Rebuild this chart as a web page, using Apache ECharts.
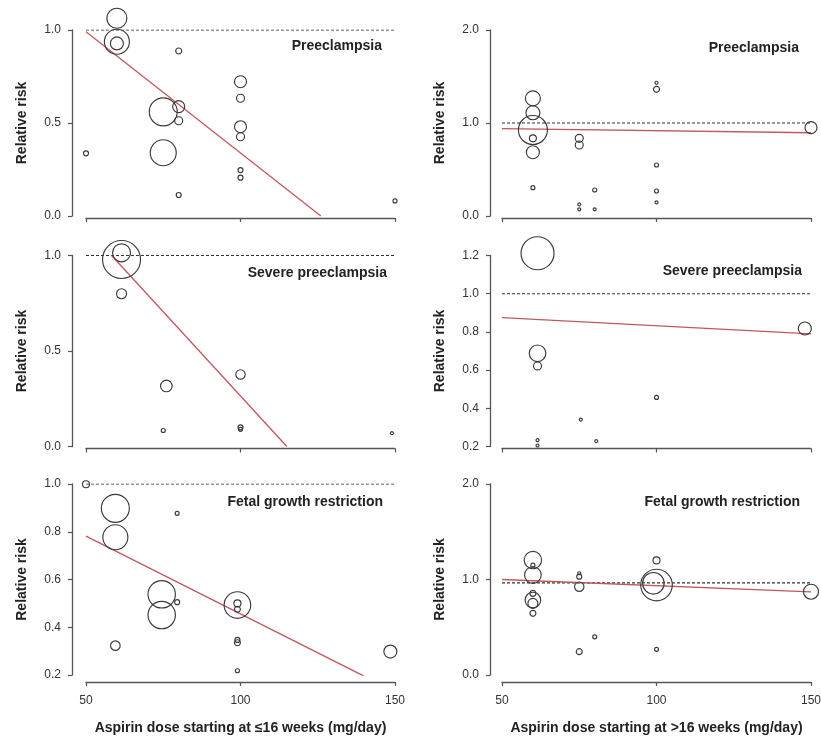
<!DOCTYPE html>
<html>
<head>
<meta charset="utf-8">
<script src="https://cdn.jsdelivr.net/npm/echarts@6/dist/echarts.min.js"></script>
<style>
  html, body { margin: 0; padding: 0; background: #fff; }
  #chart { width: 821px; height: 740px; }
</style>
</head>
<body>
<div id="chart"></div>
<script>
// ---------- DATA ----------
const outcomes = ['Preeclampsia', 'Severe preeclampsia', 'Fetal growth restriction'];
const xTitles = ['Aspirin dose starting at \u226416 weeks (mg/day)', 'Aspirin dose starting at >16 weeks (mg/day)'];
const yTitle = 'Relative risk';
const doseTicks = [50, 100, 150];

// Panel 1: preeclampsia, <=16 weeks
const p1Dose   = [50, 60, 60, 60, 80, 75, 75, 80, 80, 80, 100, 100, 100, 100, 100, 100, 150];
const p1RR     = [0.337, 1.063, 0.937, 0.928, 0.887, 0.56, 0.34, 0.588, 0.512, 0.113, 0.722, 0.633, 0.48, 0.426, 0.247, 0.206, 0.081];
const p1Weight = [2.5, 10, 12.5, 6.5, 3, 14, 13, 6, 4, 2.5, 6, 4, 6, 4, 2.5, 2.5, 2];
const p1FitDose = [50, 126];
const p1FitRR   = [0.99, 0];

// Panel 2: preeclampsia, >16 weeks
const p2Dose   = [60, 60, 60, 60, 60, 60, 75, 75, 75, 75, 80, 80, 100, 100, 100, 100, 100, 150];
const p2RR     = [1.265, 1.11, 0.925, 0.835, 0.685, 0.305, 0.835, 0.763, 0.125, 0.072, 0.28, 0.072, 1.433, 1.362, 0.548, 0.269, 0.147, 0.95];
const p2Weight = [7.5, 7, 14.5, 3.5, 6.5, 2, 4, 4, 1.5, 1.5, 2, 1.5, 1.5, 3, 2, 2, 1.5, 6];
const p2FitDose = [50, 150];
const p2FitRR   = [0.94, 0.895];

// Panel 3: severe preeclampsia, <=16 weeks
const p3Dose   = [61.5, 61.5, 61.5, 76, 75, 100, 100, 100, 149];
const p3RR     = [0.979, 1.014, 0.80, 0.317, 0.084, 0.377, 0.10, 0.09, 0.07];
const p3Weight = [19, 9, 5, 5.8, 2, 4.7, 2.5, 2, 1.5];
const p3FitDose = [58.3, 115];
const p3FitRR   = [1.0, 0];

// Panel 4: severe preeclampsia, >16 weeks
const p4Dose   = [61.5, 61.5, 61.5, 61.5, 61.5, 75.5, 80.5, 100, 148];
const p4RR     = [1.212, 0.688, 0.622, 0.233, 0.205, 0.341, 0.228, 0.457, 0.818];
const p4Weight = [16.5, 8.3, 4, 1.5, 1.5, 1.5, 1.5, 2, 6.5];
const p4FitDose = [50, 150];
const p4FitRR   = [0.875, 0.79];

// Panel 5: fetal growth restriction, <=16 weeks
const p5Dose   = [50, 59.5, 59.5, 59.5, 79.5, 74.5, 74.5, 79.5, 99, 99, 99, 99, 99, 99, 148.5];
const p5RR     = [0.999, 0.898, 0.777, 0.323, 0.877, 0.538, 0.451, 0.505, 0.493, 0.50, 0.475, 0.347, 0.335, 0.218, 0.298];
const p5Weight = [3.5, 14, 12.5, 4.8, 2, 13.7, 13.7, 2.5, 13.3, 3.5, 3, 2.5, 3, 2, 6.5];
const p5FitDose = [50, 140];
const p5FitRR   = [0.782, 0.195];

// Panel 6: fetal growth restriction, >16 weeks
const p6Dose   = [60, 60, 60, 60, 60, 60, 60, 75, 75, 75, 75, 80, 100, 100, 99, 100, 150];
const p6RR     = [1.204, 1.15, 1.047, 0.855, 0.785, 0.75, 0.646, 1.065, 1.03, 0.925, 0.244, 0.40, 1.20, 0.942, 0.96, 0.269, 0.872];
const p6Weight = [8.7, 2, 8.3, 3, 7.8, 5, 3, 1.5, 2.5, 4.7, 3, 2, 3.5, 15.8, 10.8, 2, 7.5];
const p6FitDose = [50, 150];
const p6FitRR   = [1.0, 0.87];

// y-axis ranges per panel: [min, max, interval]
const yMin      = [0, 0, 0, 0.2, 0.2, 0];
const yMax      = [1, 2, 1, 1.2, 1, 2];
const yInterval = [0.5, 1, 0.5, 0.2, 0.2, 1];
const refRR     = [1, 1, 1, 1, 1, 0.965];

// ---------- BUILD ----------
const panels = [
  { dose: p1Dose, rr: p1RR, w: p1Weight, fd: p1FitDose, fr: p1FitRR },
  { dose: p2Dose, rr: p2RR, w: p2Weight, fd: p2FitDose, fr: p2FitRR },
  { dose: p3Dose, rr: p3RR, w: p3Weight, fd: p3FitDose, fr: p3FitRR },
  { dose: p4Dose, rr: p4RR, w: p4Weight, fd: p4FitDose, fr: p4FitRR },
  { dose: p5Dose, rr: p5RR, w: p5Weight, fd: p5FitDose, fr: p5FitRR },
  { dose: p6Dose, rr: p6RR, w: p6Weight, fd: p6FitDose, fr: p6FitRR }
];

const FONT = 'Liberation Sans, Arial, Helvetica, sans-serif';
const colLeft = [86, 502];
const colWidth = 309;
const rowTop = [30, 255.5, 484];
const rowHeight = [186, 191, 191];
const xOffset = [2, 2, 7];
const yOffset = [14, 12];
const labelRight = [[382, 799], [387, 802], [383, 800]];
const labelY = [[46, 48], [273, 271], [502, 502]];

const grids = [], xAxes = [], yAxes = [], series = [], graphics = [];
panels.forEach((p, i) => {
  const row = Math.floor(i / 2), col = i % 2;
  const bottomRow = row === 2;
  grids.push({ left: colLeft[col], top: rowTop[row], width: colWidth, height: rowHeight[row],
               containLabel: false, outerBoundsMode: 'none' });
  xAxes.push({
    type: 'value', gridIndex: i, min: doseTicks[0], max: doseTicks[doseTicks.length - 1],
    interval: doseTicks[1] - doseTicks[0], offset: xOffset[row],
    axisLine: { show: true, onZero: false, lineStyle: { color: '#555', width: 1.3 } },
    axisTick: { show: true, length: 4, lineStyle: { color: '#555', width: 1.2 } },
    axisLabel: { show: bottomRow, margin: 13, color: '#333', fontSize: 12, fontFamily: FONT },
    splitLine: { show: false },
    name: bottomRow ? xTitles[col] : '', nameLocation: 'middle', nameGap: 39,
    nameTextStyle: { fontSize: 14, fontWeight: 'bold', color: '#222', fontFamily: FONT }
  });
  yAxes.push({
    type: 'value', gridIndex: i, min: yMin[i], max: yMax[i], interval: yInterval[i],
    offset: yOffset[col],
    axisLine: { show: true, lineStyle: { color: '#555', width: 1.3 } },
    axisTick: { show: true, length: 4, lineStyle: { color: '#555', width: 1.2 } },
    axisLabel: { margin: 11, color: '#333', fontSize: 12, fontFamily: FONT,
                 formatter: v => (+v).toFixed(1) },
    splitLine: { show: false },
    name: yTitle, nameLocation: 'middle', nameGap: 43, nameRotate: 90,
    nameTextStyle: { fontSize: 14, fontWeight: 'bold', color: '#222', fontFamily: FONT }
  });
  series.push({
    type: 'line', xAxisIndex: i, yAxisIndex: i, silent: true, symbol: 'none',
    data: [[doseTicks[0], refRR[i]], [doseTicks[doseTicks.length - 1], refRR[i]]],
    lineStyle: { color: '#333', width: 1.1, type: [3, 2] }, z: 1
  });
  series.push({
    type: 'line', xAxisIndex: i, yAxisIndex: i, silent: true, symbol: 'none',
    data: p.fd.map((d, k) => [d, p.fr[k]]),
    lineStyle: { color: '#c0585c', width: 1.3 }, z: 2
  });
  series.push({
    type: 'scatter', xAxisIndex: i, yAxisIndex: i, silent: true, clip: false,
    data: p.dose.map((d, k) => [d, p.rr[k], p.w[k]]),
    symbol: 'circle', symbolSize: v => v[2] * 2,
    itemStyle: { color: 'rgba(0,0,0,0)', borderColor: '#3a3a3a', borderWidth: 1.15, opacity: 1 }, z: 3
  });
  graphics.push({
    type: 'text', x: labelRight[row][col], y: labelY[row][col], silent: true,
    style: { text: outcomes[row], align: 'right', verticalAlign: 'middle',
             fontSize: 14, fontWeight: 'bold', fontFamily: FONT, fill: '#222' }
  });
});

const chart = echarts.init(document.getElementById('chart'), null, { renderer: 'canvas' });
chart.setOption({
  animation: false,
  backgroundColor: '#fff',
  grid: grids, xAxis: xAxes, yAxis: yAxes, series: series, graphic: graphics
});
</script>
</body>
</html>
